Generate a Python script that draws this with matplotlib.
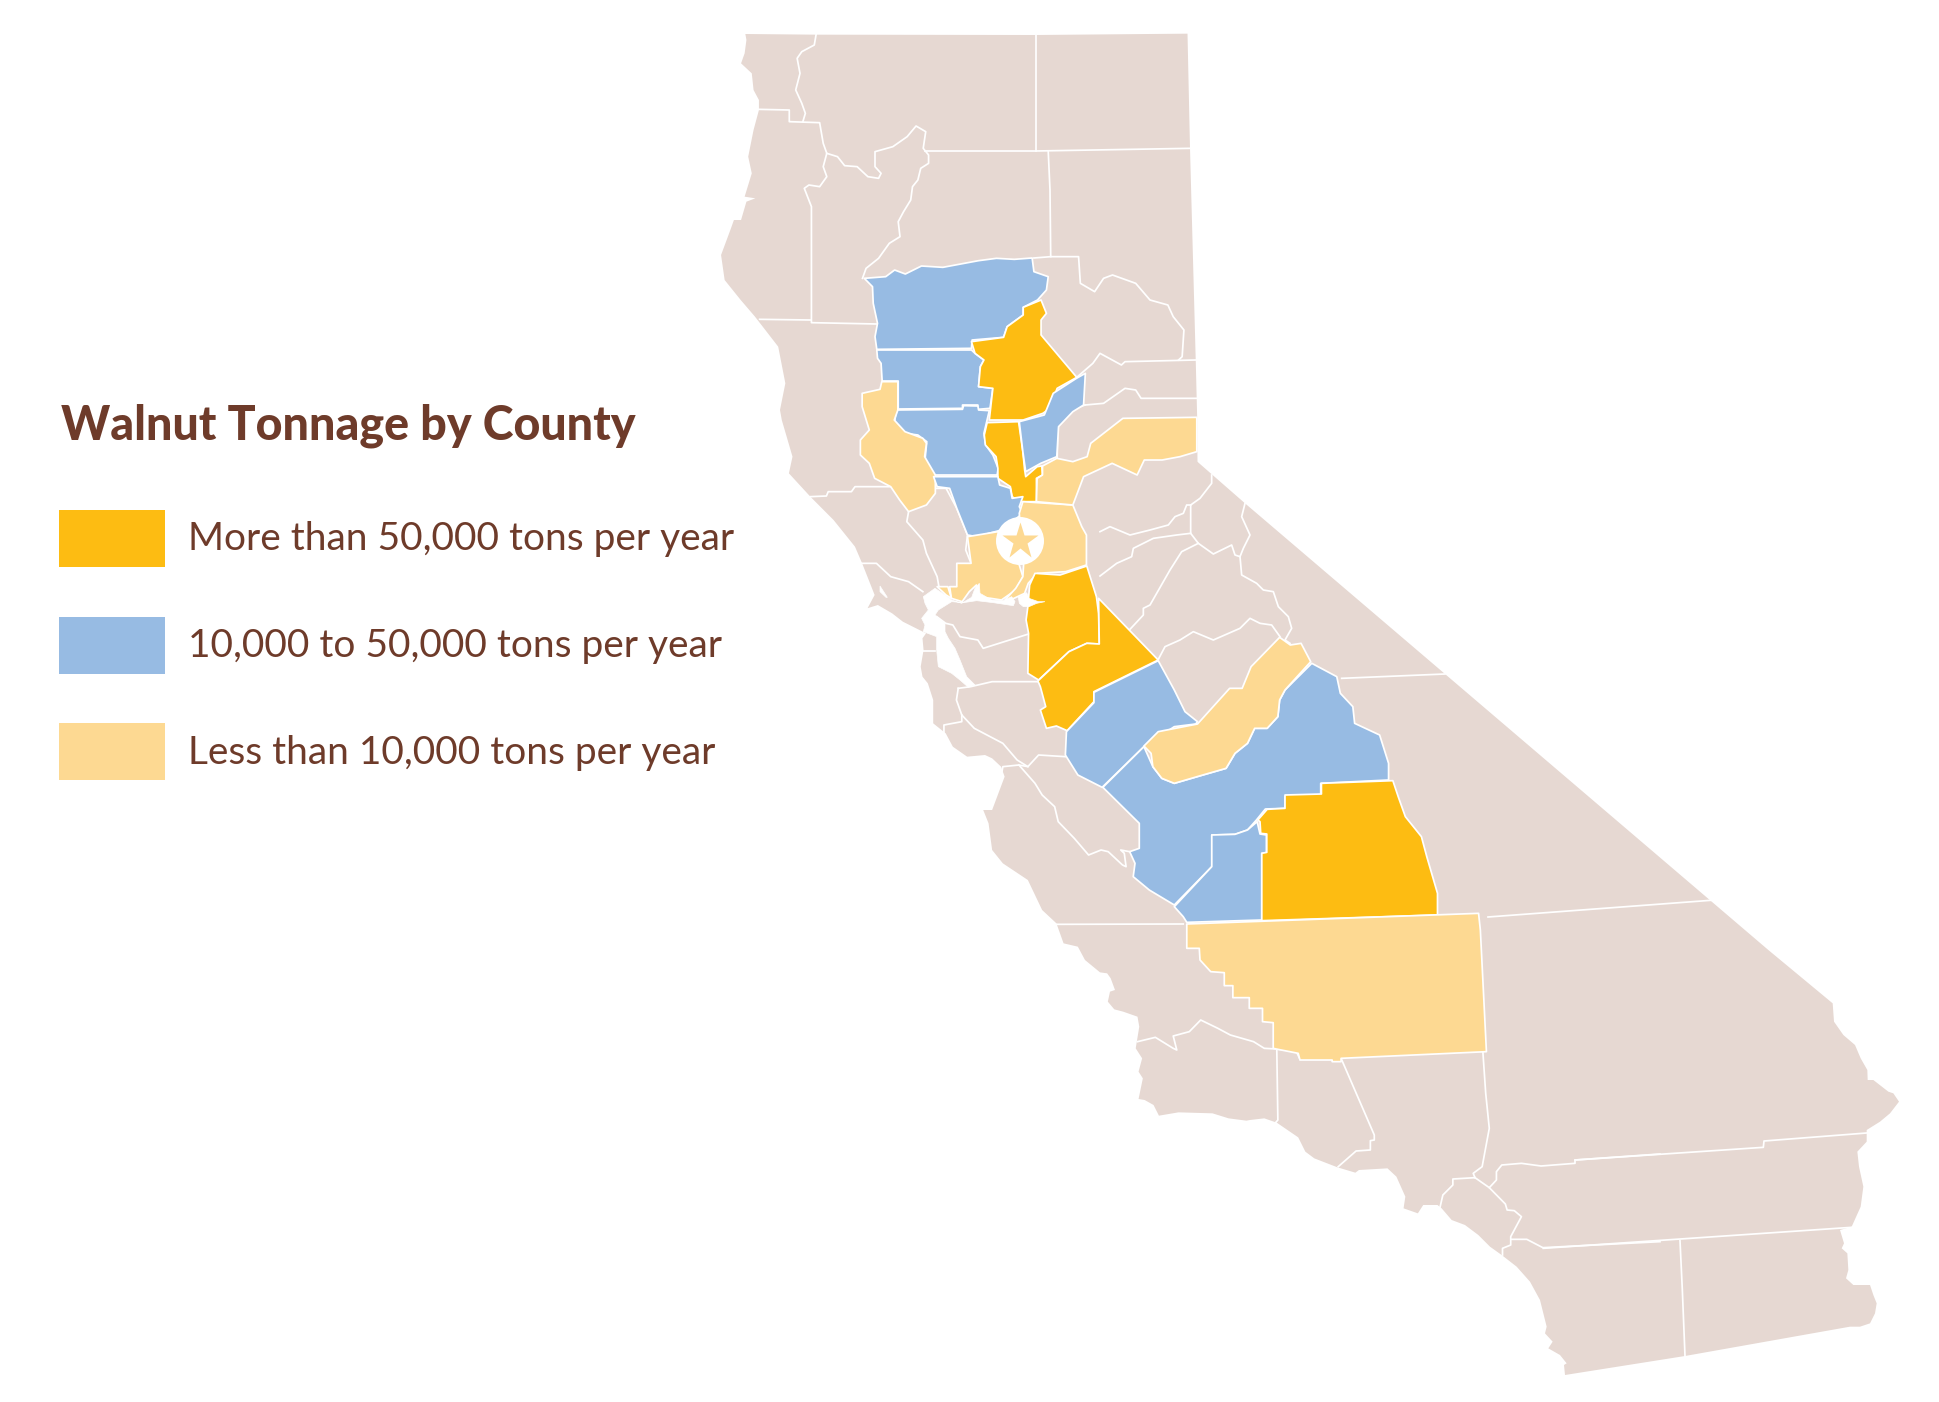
import matplotlib
matplotlib.use("Agg")
import matplotlib.pyplot as plt
from matplotlib.patches import Polygon, Circle, Rectangle

W, H = 1939, 1402
BEIGE, GOLD, BLUE, LIGHT, BROWN = '#E6D8D2', '#FDBC12', '#97BBE3', '#FDD992', '#6E3B2A'

def fa(p): return [(680 + x / 2.8, 230 + y / 3) for x, y in p]
def fb(p): return [(1000 + x / 2.8, 620 + y / 3) for x, y in p]
def fc(p): return [(700 + x / 2.8, 20 + y / 3) for x, y in p]
def fd(p): return [(860 + x / 2.8, 480 + y / 3) for x, y in p]
def fe(p): return [(1100 + x / 2.8, 950 + y / 3) for x, y in p]
def ff(p): return [(1440 + x / 3, 950 + y / 3) for x, y in p]
def fg(p): return [(1100 + x / 3, 300 + y / 3) for x, y in p]
def fh(p): return [(880 + x / 3, 560 + y / 3) for x, y in p]

# ---- state outline, clockwise from the north-west corner
north_edge = [(127,42),(325,44),(940,45),(1365,41),(1372,385),(1388,1020),(1392,1190),(1393,1330)]
nv_edge = [(292,485),(435,610),(1035,1122)]
se_edge = [(985,0),(1178,160),(1182,215),(1210,255),(1245,285),(1262,325),(1282,360),(1283,390),(1300,390),(1345,425),(1360,430),(1377,455),(1350,490),(1320,515),(1280,540),(1280,575),(1252,605),(1257,650),(1270,710),(1262,770),(1235,830),(1200,840),(1212,880),(1205,895),(1222,910),(1225,960),(1218,985),(1240,1005),(1290,1005),(1300,1035),(1310,1060),(1305,1090),(1290,1120),(1260,1130),(1230,1130),(735,1218),(375,1275),(372,1245),(380,1240),(360,1215),(325,1195),(338,1175),(315,1150),(320,1130),(300,1050),(270,995),(230,950),(185,915),(150,890),(115,855),(75,825),(35,810),(5,775)]
socal_coast = [(945,765),(905,765),(890,790),(850,775),(855,740),(830,680),(805,655),(725,660),(715,668),(665,652),(600,625),(575,605),(555,562),(495,518),(460,505),(420,510),(410,512),(360,505),(315,490),(220,487),(165,497),(150,465),(125,450),(108,447),(120,385),(108,365),(118,325),(100,295),(110,230),(105,200),(65,185),(40,178),(22,155),(28,125),(42,120),(30,85),(20,70),(0,67)]
central_coast = [(630,1440),(610,1400),(570,1390),(550,1330),(510,1290),(470,1200),(400,1150),(370,1110),(360,1030),(345,990),(370,990),(405,890),(395,860),(370,835),(350,825),(300,830),(260,800),(240,760),(205,730),(205,660),(190,610),(175,590),(170,560),(178,510),(175,475),(185,460),(120,425),(90,400),(50,375),(20,385)]
mid_coast = [(525,1135),(545,1095),(510,1000),(490,950),(430,870),(365,800),(305,730),(315,680),(285,570),(280,540),(295,460),(275,350),(210,260),(170,210),(125,150),(115,75)]
north_coast = [(85,630),(95,600),(115,600),(130,545),(155,535),(125,530),(145,460),(135,410),(150,330),(165,270),(165,240),(150,210),(145,160),(115,130),(125,100),(130,60)]

# ---- counties by tonnage class
tehama = [(460,775),(520,770),(545,750),(575,762),(620,738),(680,742),(780,722),(830,715),(880,718),(930,714),(935,755),(975,770),(970,810),(945,840),(905,862),(905,885),(860,920),(850,952),(762,960),(760,985),(495,988),(490,950),(497,910),(485,850),(483,800)]
butte = [(955,840),(970,880),(955,900),(955,945),(1055,1072),(1000,1105),(980,1165),(960,1180),(905,1200),(810,1200),(820,1105),(780,1100),(785,1040),(795,1020),(770,1000),(760,965),(850,952),(860,920),(905,885),(905,862)]
glenn = [(495,990),(760,990),(770,1000),(795,1020),(785,1040),(780,1100),(820,1105),(812,1165),(778,1168),(778,1155),(735,1155),(735,1165),(555,1167),(555,1083),(510,1083),(507,1030),(497,1015)]
colusa = [(550,1170),(735,1168),(738,1157),(778,1158),(780,1170),(810,1172),(795,1240),(800,1275),(820,1305),(835,1345),(832,1365),(655,1365),(630,1320),(635,1265),(610,1245),(575,1240),(545,1205)]
lake = [(565,455),(610,455),(610,540),(600,570),(630,605),(680,625),(690,640),(685,680),(715,735),(715,790),(690,825),(640,845),(615,810),(590,770),(545,745),(530,700),(505,675),(505,630),(530,600),(510,530),(510,490),(560,478)]
sutter = [(860,578),(948,575),(960,665),(965,720),(968,740),(1000,710),(1013,708),(1015,735),(998,745),(998,815),(950,815),(930,800),(925,770),(890,745),(890,715),(885,680),(855,645),(852,615)]
yuba = [(950,575),(1020,555),(1045,490),(1110,445),(1135,430),(1130,525),(1100,545),(1060,590),(1055,680),(1010,700),(968,725),(960,665)]
yolo = [(710,740),(890,740),(895,765),(925,775),(930,805),(960,800),(950,830),(960,850),(900,900),(830,920),(805,915),(775,835),(755,775),(720,770)]
solano = [(805,920),(890,905),(950,1005),(960,1040),(940,1080),(900,1110),(870,1105),(835,1100),(830,1065),(810,1085),(790,1115),(760,1105),(755,1070),(775,1070),(775,1000),(815,1000)]
solano_tip = [(720,1070),(750,1070),(760,1105),(745,1095)]
sacramento = [(960,815),(1100,825),(1125,890),(1138,915),(1138,1005),(1080,1025),(1000,1030),(975,1060),(965,1090),(925,1110),(910,1110),(940,1075),(960,1040),(962,1005),(950,850)]
placer = [(1000,745),(1015,735),(1015,708),(1055,685),(1100,695),(1140,680),(1150,640),(1240,565),(1447,562),(1447,665),(1400,680),(1350,690),(1300,690),(1280,735),(1240,715),(1210,700),(1130,740),(1100,825),(998,815)]
san_joaquin = [(490,280),(560,285),(635,258),(662,350),(668,400),(670,492),(635,490),(585,515),(500,600),(470,580),(472,460),(465,420),(470,380),(475,315)]
stanislaus = [(498,603),(585,515),(635,490),(670,492),(668,355),(835,540),(655,635),(655,665),(580,752),(550,738),(522,745),(505,690),(520,680),(505,620)]
merced = [(655,637),(835,542),(880,630),(910,695),(945,725),(940,732),(880,740),(795,800),(678,922),(610,885),(575,825),(578,755),(655,668)]
mariposa = [(1175,472),(1205,495),(1235,490),(1262,545),(1190,630),(1175,660),(1170,710),(1140,745),(1105,745),(1085,790),(1050,820),(1025,865),(960,885),(880,910),(845,895),(820,860),(815,820),(795,798),(835,755),(945,732),(1035,625),(1070,625),(1095,560)]
fresno = [(1265,550),(1335,590),(1345,640),(1380,680),(1385,730),(1455,765),(1480,850),(1480,900),(1290,910),(1290,945),(1190,950),(1190,985),(1135,987),(1110,1020),(1085,1050),(1050,1063),(985,1065),(985,1160),(880,1275),(810,1230),(765,1190),(770,1150),(755,1115),(782,1105),(782,1030),(680,922),(795,800),(820,860),(845,895),(880,910),(960,885),(1025,865),(1050,820),(1085,790),(1105,745),(1140,745),(1170,710),(1175,660),(1190,630)]
kings = [(1112,1025),(1120,1062),(1138,1065),(1138,1118),(1125,1120),(1125,1320),(915,1327),(905,1310),(880,1280),(985,1160),(985,1065),(1050,1063),(1085,1050)]
tulare = [(722,600),(748,568),(798,565),(798,525),(900,522),(900,490),(1100,482),(1115,530),(1135,590),(1180,650),(1195,710),(1225,820),(1225,885),(733,902),(733,700),(747,697),(747,642),(730,640),(728,605)]
kern = [(523,912),(1340,880),(1345,930),(1362,1295),(955,1315),(955,1325),(930,1325),(930,1320),(840,1320),(835,1300),(778,1288),(765,1285),(765,1208),(735,1205),(735,1165),(698,1165),(698,1133),(652,1133),(652,1097),(628,1097),(628,1058),(590,1055),(560,1020),(558,985),(523,985)]

# ---- water
bay = [(130,110),(165,85),(195,105),(215,120),(245,130),(275,112),(285,85),(298,70),(300,100),(335,120),(370,122),(395,110),(405,125),(400,137),(340,128),(290,122),(250,128),(215,125),(175,150),(165,165),(195,190),(195,215),(205,235),(225,265),(240,300),(260,350),(285,375),(265,382),(240,360),(215,340),(175,320),(170,270),(170,230),(130,215),(135,195),(125,175),(145,150),(135,130)]
delta = [(415,112),(440,98),(447,115),(475,125),(495,125),(470,130),(447,140),(430,140),(418,130)]
tomales = [(0,78),(22,112),(18,112),(0,95)]

# ---- county lines
north_lines = [
    [(325,44),(320,75),(285,95),(272,115),(280,160),(268,210),(285,250),(295,280),(288,305)],
    [(163,268),(250,270),(250,305),(335,308),(345,370),(355,400),(345,440),(355,470),(335,500),(305,495),(292,505),(312,560),(312,908),(495,912)],
    [(355,400),(385,410),(405,437),(440,440),(470,470),(500,475),(507,460),(490,440),(490,395),(540,380),(580,350),(605,318),(632,335),(625,385),(640,405),(640,430),(618,445),(610,480),(595,500),(590,540),(570,575),(555,605),(560,650),(530,670),(500,715),(465,745),(455,775)],
    [(630,393),(940,393),(1372,385)],
    [(940,45),(940,393)],
    [(975,393),(980,510),(982,710),(1060,710),(1065,790),(1105,815),(1130,775),(1155,765),(1220,790),(1260,840),(1310,855),(1325,890),(1355,930),(1350,1010),(1340,1020)],
    [(935,714),(982,710)],
    [(167,898),(310,900)],
    [(1055,1072),(1100,1030),(1120,1000),(1180,1035),(1190,1025),(1388,1020)],
    [(1078,1155),(1130,1150),(1190,1105),(1220,1110),(1235,1135),(1390,1135)],
    [(1000,1320),(1002,1220),(1040,1170),(1078,1155)],
]
sierra_lines = [
    [(335,525),(335,550),(300,595),(272,615),(272,700),(295,730),(340,762),(395,735),(405,765),(420,770),(430,745),(450,705),(425,650),(435,610)],
    [(0,695),(30,680),(90,705),(150,690),(205,675),(225,650),(250,640),(260,615),(272,615)],
    [(0,828),(50,790),(95,770),(100,745),(160,715),(230,705),(272,700)],
    [(295,730),(245,755),(210,810),(150,915),(130,925),(130,945),(88,990)],
    [(420,770),(425,825),(470,850),(490,870),(520,875),(535,920),(565,950),(575,985),(555,1020),(570,1030)],
    [(175,1078),(195,1040),(240,1020),(280,995),(340,1020),(420,985),(450,955),(480,970),(515,975),(540,1010)],
    [(725,1135),(1035,1122)],
]
wine_lines = [
    [(365,800),(410,798),(415,785),(480,785),(490,770),(590,770)],
    [(640,845),(635,875),(680,930),(690,970),(720,1040),(725,1070)],
    [(715,775),(745,775),(775,835),(805,915),(800,960),(815,1000)],
    [(505,1000),(550,1000),(590,1040),(640,1055),(680,1085)],
]
coast_lines = [
    [(215,410),(240,430),(260,435),(280,470),(330,480),(345,505),(472,462)],
    [(175,512),(210,512)],
    [(275,625),(310,620),(370,605),(498,605)],
    [(275,625),(270,660),(285,705),(320,745),(400,790),(440,840),(470,860),(500,825),(575,830)],
    [(235,765),(235,735),(285,725),(285,705)],
    [(470,860),(445,855),(400,860),(395,890)],
    [(445,855),(490,910),(510,945),(545,980),(555,1025),(600,1075),(640,1125),(675,1110),(695,1115),(735,1155),(745,1160),(740,1120),(730,1110),(755,1115)],
    [(550,1333),(905,1332)],
]
south_lines = [
    [(105,275),(155,262),(205,295),(215,300),(205,258),(250,245),(282,210),(330,235),(365,255),(430,275),(460,295),(495,297),(515,300),(550,305),(560,328)],
    [(495,297),(498,510),(490,520)],
    [(675,325),(768,555),(768,570),(757,572),(757,600),(717,603),(667,650)],
    [(1072,305),(1080,430),(1090,535),(1070,650),(1045,670),(1050,683)],
    [(1050,683),(988,687),(988,705),(960,735),(952,772)],
    [(1050,683),(1090,713),(1135,762),(1140,780),(1160,782),(1180,800),(1150,860),(1150,885),(1127,895),(1127,915)],
    [(1090,713),(1110,690),(1110,665),(1125,645),(1180,640),(1235,648),(1330,640),(1330,630),(1568,612)],
    [(1152,868),(1195,868),(1240,893),(1568,875)],
]
desert_lines = [
    [(405,630),(970,592),(972,573),(1280,549)],
    [(310,895),(1235,832)],
    [(720,872),(727,1020),(735,1218)],
]
kern_inyo_line = [(1488,917),(1715,900)]
star_site = [(1020, 541)]

# ---- legend and title
title = 'Walnut Tonnage by County'
legend_labels = ['More than 50,000 tons per year', '10,000 to 50,000 tons per year', 'Less than 10,000 tons per year']
legend_colors = [GOLD, BLUE, LIGHT]
legend_tops = [510, 617, 723]
legend_baselines = [550, 657, 764]

plt.rcParams['font.family'] = ['Lato', 'DejaVu Sans']
fig = plt.figure(figsize=(W / 100, H / 100), dpi=100, facecolor='white')
ax = fig.add_axes([0, 0, 1, 1])
ax.set_xlim(0, W)
ax.set_ylim(H, 0)
ax.axis('off')

outline = fc(north_edge) + fg(nv_edge) + ff(se_edge) + fe(socal_coast) + fd(central_coast) + fa(mid_coast) + fc(north_coast)
ax.add_patch(Polygon(outline, closed=True, fc=BEIGE, ec='none', zorder=1))

LW = 1.25
def lines(group, conv):
    for seg in group:
        xs, ys = zip(*conv(seg))
        ax.plot(xs, ys, color='white', lw=LW, solid_joinstyle='round', zorder=2)

lines(north_lines, fc)
lines(sierra_lines, fg)
lines(wine_lines, fa)
lines(coast_lines, fd)
lines(south_lines, fe)
lines(desert_lines, ff)
lines([kern_inyo_line], lambda p: p)

counties = [
    (tehama, fc, BLUE), (glenn, fc, BLUE), (colusa, fc, BLUE), (butte, fc, GOLD),
    (lake, fa, LIGHT), (sutter, fa, GOLD), (yuba, fa, BLUE), (yolo, fa, BLUE),
    (solano, fa, LIGHT), (solano_tip, fa, LIGHT), (sacramento, fa, LIGHT), (placer, fa, LIGHT),
    (san_joaquin, fd, GOLD), (stanislaus, fd, GOLD), (merced, fd, BLUE), (fresno, fd, BLUE),
    (mariposa, fd, LIGHT), (kings, fd, BLUE), (tulare, fb, GOLD), (kern, fb, LIGHT),
]
for pts, conv, col in counties:
    ax.add_patch(Polygon(conv(pts), closed=True, fc=col, ec='white', lw=LW, joinstyle='round', zorder=3))

for water in (bay, delta, tomales):
    ax.add_patch(Polygon(fh(water), closed=True, fc='white', ec='white', lw=0.5, zorder=4))

cx, cy = star_site[0]
ax.add_patch(Circle((cx, cy), 24, fc='white', ec='none', zorder=5))
ax.plot([cx], [cy], marker='*', ms=28, mfc=LIGHT, mec='none', zorder=6)

ax.text(61, 439, title, fontsize=33.6, fontweight='black', color=BROWN, va='baseline', ha='left')
for top, base, col, lab in zip(legend_tops, legend_baselines, legend_colors, legend_labels):
    ax.add_patch(Rectangle((59, top), 106, 57, fc=col, ec='none'))
    ax.text(188, base, lab, fontsize=28, color=BROWN, va='baseline', ha='left')

fig.savefig('out.png', dpi=100, facecolor='white')
